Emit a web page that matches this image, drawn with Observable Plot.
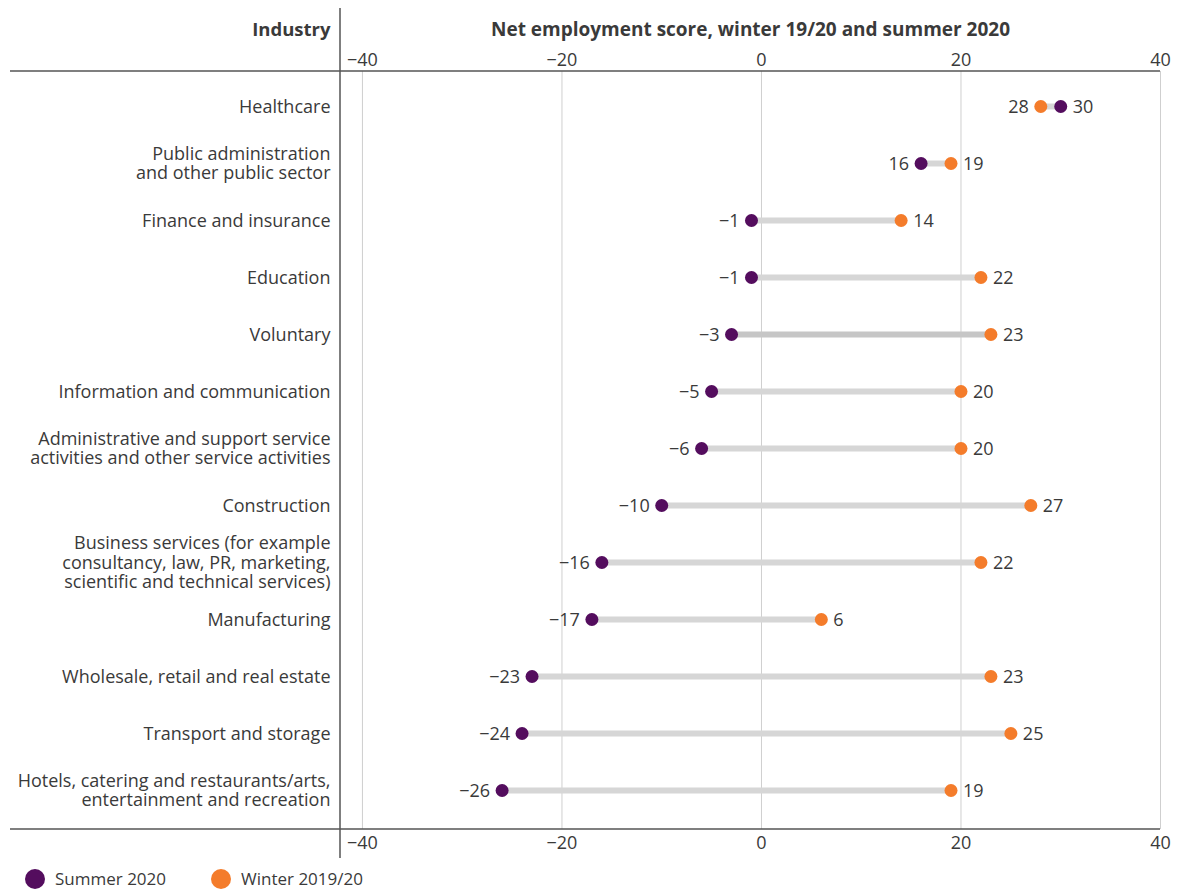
<!DOCTYPE html>
<html>
<head>
<meta charset="utf-8">
<script src="https://cdn.jsdelivr.net/npm/d3@7"></script>
<script src="https://cdn.jsdelivr.net/npm/@observablehq/plot@0.6"></script>
<style>
  html, body { margin: 0; padding: 0; background: #fff; }
  body { width: 1189px; font-family: "Open Sans", Lato, sans-serif; color: #3a3a3a; }
  #legend { position: relative; height: 25px; font-size: 17px; }
  .item { position: absolute; top: 0; display: flex; align-items: center; height: 25px; }
  .sw { width: 20px; height: 20px; border-radius: 50%; margin-right: 10px; }
</style>
</head>
<body>
<div id="chart"></div>
<div id="legend"></div>
<script>
const industries = [
  "Healthcare",
  "Public administration\nand other public sector",
  "Finance and insurance",
  "Education",
  "Voluntary",
  "Information and communication",
  "Administrative and support service\nactivities and other service activities",
  "Construction",
  "Business services (for example\nconsultancy, law, PR, marketing,\nscientific and technical services)",
  "Manufacturing",
  "Wholesale, retail and real estate",
  "Transport and storage",
  "Hotels, catering and restaurants/arts,\nentertainment and recreation"
];
const summer2020 = [30, 16, -1, -1, -3, -5, -6, -10, -16, -17, -23, -24, -26];
const winter1920 = [28, 19, 14, 22, 23, 20, 20, 27, 22, 6, 23, 25, 19];
const xTicks = [-40, -20, 0, 20, 40];
const seriesNames = ["Summer 2020", "Winter 2019/20"];
const title = "Net employment score, winter 19/20 and summer 2020";
const rowHeader = "Industry";

const PURPLE = "#540d5e";
const ORANGE = "#f47c2b";
const TEXT = "#3a3a3a";
const FONT = "'Open Sans', Lato, sans-serif";

const data = industries.map((industry, i) => ({
  industry,
  summer: summer2020[i],
  winter: winter1920[i],
  lo: Math.min(summer2020[i], winter1920[i]),
  hi: Math.max(summer2020[i], winter1920[i])
}));

const W = 1189, H = 866;
const mL = 340, mR = 29, mT = 71, mB = 37;
const minus = v => String(v).replace("-", "\u2212");

const plot = Plot.plot({
  width: W,
  height: H,
  marginLeft: mL,
  marginRight: mR,
  marginTop: mT,
  marginBottom: mB,
  style: { fontFamily: FONT, fontSize: "18px", color: TEXT, background: "#fff", overflow: "visible" },
  x: { domain: [-42.2, 40], axis: null },
  y: { type: "point", domain: industries, range: [105, 790], padding: 0, axis: null },
  marks: [
    Plot.ruleX(xTicks, { stroke: "#cfcfcf", strokeWidth: 1 }),
    Plot.axisX({ anchor: "top", ticks: xTicks, tickSize: 0, tickPadding: 6, tickFormat: minus, fontSize: 18, fill: TEXT }),
    Plot.axisX({ anchor: "bottom", ticks: xTicks, tickSize: 0, tickPadding: 7, tickFormat: minus, fontSize: 18, fill: TEXT }),
    Plot.ruleY(data, { y: "industry", x1: "summer", x2: "winter", stroke: d => d.industry === "Voluntary" ? "#c6c6c6" : "#d6d6d6", strokeWidth: 6 }),
    Plot.dot(data, { y: "industry", x: "winter", r: 6.5, fill: ORANGE }),
    Plot.dot(data, { y: "industry", x: "summer", r: 6.5, fill: PURPLE }),
    Plot.text(data, { y: "industry", x: "lo", text: d => minus(d.lo), dx: -12, dy: 1, textAnchor: "end", fontSize: 18, fill: TEXT }),
    Plot.text(data, { y: "industry", x: "hi", text: d => minus(d.hi), dx: 12, dy: 1, textAnchor: "start", fontSize: 18, fill: TEXT }),
    Plot.text(data, { y: "industry", text: "industry", frameAnchor: "left", dx: -10, textAnchor: "end", lineHeight: 1.08, fontSize: 18, fill: TEXT }),
    Plot.text([title], { frameAnchor: "top", dy: -49, fontWeight: "bold", fontSize: 19, fill: TEXT }),
    Plot.text([rowHeader], { frameAnchor: "top-left", dx: -10, dy: -49, textAnchor: "end", fontWeight: "bold", fontSize: 18.5, fill: TEXT })
  ]
});

// structural rules
const svg = d3.select(plot);
const g = svg.append("g").attr("stroke", "#555").attr("stroke-width", 1.5);
g.append("line").attr("x1", 10).attr("x2", W - mR).attr("y1", mT).attr("y2", mT);
g.append("line").attr("x1", 10).attr("x2", W - mR).attr("y1", H - mB).attr("y2", H - mB);
g.append("line").attr("x1", mL).attr("x2", mL).attr("y1", 8).attr("y2", H - 8);

document.getElementById("chart").appendChild(plot);

const legend = document.getElementById("legend");
[[seriesNames[0], PURPLE, 25], [seriesNames[1], ORANGE, 211]].forEach(([name, color, left]) => {
  const it = document.createElement("div");
  it.className = "item";
  it.style.left = left + "px";
  it.innerHTML = `<span class="sw" style="background:${color}"></span><span>${name}</span>`;
  legend.appendChild(it);
});
</script>
</body>
</html>
